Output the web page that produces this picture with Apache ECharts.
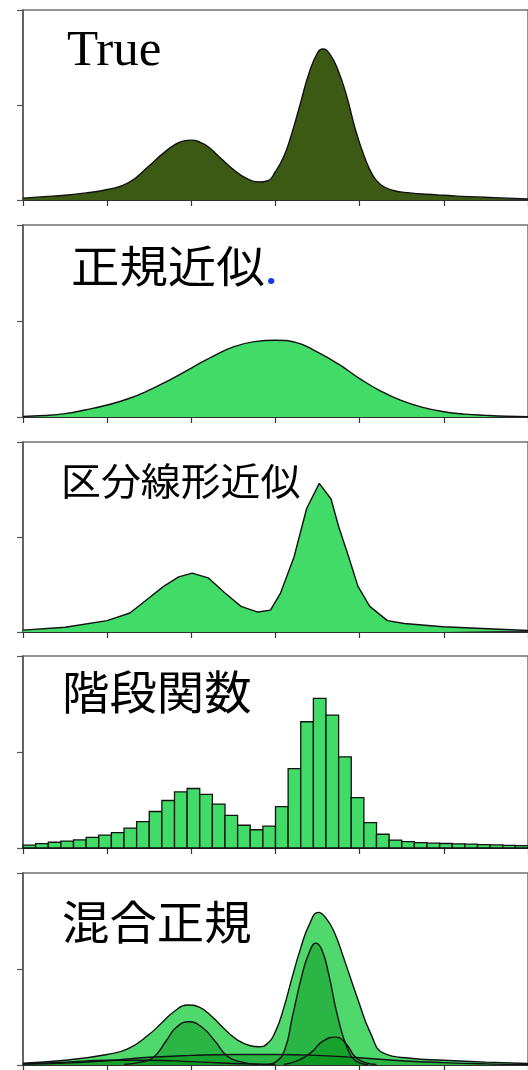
<!DOCTYPE html>
<html>
<head>
<meta charset="utf-8">
<script src="https://cdn.jsdelivr.net/npm/echarts@6/dist/echarts.min.js"></script>
<style>
  html, body { margin: 0; padding: 0; background: #ffffff; }
  #chart { width: 528px; height: 1070px; }
</style>
</head>
<body>
<div id="chart"></div>
<script>
// ---- data -------------------------------------------------------------
const panelTitles = ['True', '正規近似', '区分線形近似', '階段関数', '混合正規'];

// true (bimodal) density
const trueX = [0, 0.25, 0.5, 0.75, 1.0, 1.25, 1.5, 1.65, 1.8, 1.9, 2.0, 2.1, 2.2, 2.35, 2.5, 2.65, 2.8, 2.9,
               3.0, 3.1, 3.2, 3.3, 3.4, 3.5, 3.56, 3.65, 3.75, 3.85, 3.95, 4.05, 4.15, 4.25, 4.4, 4.6, 4.8,
               5.0, 5.3, 5.6, 6.0];
const trueY = [0.02, 0.035, 0.05, 0.075, 0.11, 0.18, 0.36, 0.48, 0.58, 0.62, 0.63, 0.61, 0.56, 0.44, 0.32, 0.23, 0.19, 0.2,
               0.3, 0.46, 0.72, 1.03, 1.34, 1.55, 1.59, 1.53, 1.35, 1.08, 0.74, 0.47, 0.27, 0.16, 0.1, 0.075, 0.06,
               0.05, 0.035, 0.025, 0.012];

// single normal approximation
const normalX = [0, 0.25, 0.5, 0.75, 1.0, 1.25, 1.5, 1.75, 2.0, 2.25, 2.5, 2.75, 3.0, 3.25, 3.5, 3.75,
                 4.0, 4.25, 4.5, 4.75, 5.0, 5.25, 5.5, 5.75, 6.0];
const normalY = [0.006, 0.015, 0.035, 0.075, 0.125, 0.19, 0.28, 0.39, 0.51, 0.63, 0.73, 0.785, 0.8, 0.775, 0.675, 0.55,
                 0.4, 0.27, 0.17, 0.1, 0.055, 0.03, 0.017, 0.008, 0.004];

// piecewise-linear approximation (knots)
const linearX = [0, 0.5, 1.0, 1.27, 1.47, 1.67, 1.85, 2.01, 2.2, 2.4, 2.59, 2.79, 2.94, 3.06, 3.22, 3.37, 3.52,
                 3.66, 3.75, 3.87, 3.98, 4.12, 4.33, 4.53, 4.99, 6.0];
const linearY = [0.02, 0.05, 0.12, 0.2, 0.34, 0.48, 0.58, 0.62, 0.57, 0.41, 0.27, 0.21, 0.23, 0.41, 0.79, 1.3, 1.565,
                 1.4, 1.11, 0.79, 0.48, 0.27, 0.12, 0.09, 0.055, 0.015];

// step-function (histogram) approximation
const stepWidth = 0.15;
const stepHeights = [0.03, 0.045, 0.06, 0.072, 0.085, 0.11, 0.135, 0.16, 0.207, 0.275,
                     0.38, 0.495, 0.585, 0.62, 0.558, 0.457, 0.34, 0.237, 0.19, 0.228,
                     0.432, 0.826, 1.315, 1.558, 1.385, 0.95, 0.524, 0.264, 0.143, 0.083,
                     0.066, 0.055, 0.05, 0.047, 0.044, 0.04, 0.036, 0.032, 0.028, 0.024];

// normal mixture: total density and its components
const mixX = [0, 0.5, 1.0, 1.25, 1.5, 1.65, 1.8, 1.95, 2.1, 2.25, 2.4, 2.55, 2.7, 2.8, 2.9, 3.0, 3.1, 3.2, 3.3,
              3.4, 3.51, 3.6, 3.7, 3.82, 3.98, 4.13, 4.29, 4.6, 5.0, 5.5, 6.0];
const mixY = [0.02, 0.05, 0.11, 0.17, 0.32, 0.44, 0.56, 0.625, 0.6, 0.5, 0.37, 0.26, 0.2, 0.19, 0.22, 0.35, 0.6, 0.92, 1.22,
              1.46, 1.59, 1.53, 1.38, 1.09, 0.68, 0.33, 0.12, 0.07, 0.05, 0.03, 0.015];
const comp1X = [1.2, 1.4, 1.55, 1.7, 1.82, 1.97, 2.13, 2.28, 2.43, 2.6, 2.8];
const comp1Y = [0.005, 0.03, 0.08, 0.25, 0.39, 0.45, 0.39, 0.25, 0.09, 0.03, 0.005];
const comp2X = [2.9, 3.0, 3.11, 3.2, 3.32, 3.4, 3.48, 3.55, 3.63, 3.74, 3.86, 3.96, 4.1];
const comp2Y = [0.005, 0.03, 0.16, 0.5, 0.955, 1.17, 1.27, 1.2, 0.955, 0.5, 0.16, 0.04, 0.005];
const comp3X = [3.1, 3.25, 3.36, 3.45, 3.55, 3.71, 3.84, 3.94, 4.05, 4.2];
const comp3Y = [0.005, 0.04, 0.09, 0.15, 0.24, 0.29, 0.22, 0.09, 0.03, 0.005];
const comp4X = [0, 0.5, 1.0, 1.5, 2.0, 2.5, 3.0, 3.5, 4.0, 4.5, 5.0, 5.5, 6.0];
const comp4Y = [0.01, 0.02, 0.045, 0.08, 0.1, 0.11, 0.11, 0.1, 0.075, 0.045, 0.025, 0.012, 0.005];
const comp5X = [0, 0.5, 1.0, 1.5, 2.0, 2.5, 3.0];
const comp5Y = [0.01, 0.03, 0.05, 0.05, 0.035, 0.015, 0.005];

// ---- layout -----------------------------------------------------------
const panels = [
  { top: 10,  height: 190 },
  { top: 225, height: 192 },
  { top: 442, height: 190 },
  { top: 656, height: 192 },
  { top: 873, height: 192 }
];
const plotLeft = 23;
const plotWidth = 518;   // x = 6 lies just past the right edge of the page

const pairs = (xs, ys) => xs.map((x, i) => [x, ys[i]]);

const grids = panels.map(p => ({
  left: plotLeft, top: p.top, width: plotWidth, height: p.height,
  show: true, backgroundColor: '#ffffff', borderColor: '#707070', borderWidth: 1.5
}));

const xAxes = panels.map((p, i) => ({
  type: 'value', gridIndex: i, min: 0, max: 6, interval: 1,
  axisLine: { show: true, onZero: false, lineStyle: { color: '#111', width: 1.6 } },
  axisTick: { show: true, inside: false, length: 6, lineStyle: { color: '#333', width: 1.2 } },
  axisLabel: { show: false },
  splitLine: { show: false }
}));

const yAxes = panels.map((p, i) => ({
  type: 'value', gridIndex: i, min: 0, max: 2, interval: 1,
  axisLine: { show: true, lineStyle: { color: '#555', width: 1.5 } },
  axisTick: { show: true, inside: false, length: 6, lineStyle: { color: '#555', width: 1.2 } },
  axisLabel: { show: false },
  splitLine: { show: false }
}));

const outline = { color: '#111', width: 1.4 };

function curve(idx, xs, ys, fill, smooth) {
  return {
    type: 'line', xAxisIndex: idx, yAxisIndex: idx,
    data: pairs(xs, ys),
    smooth: smooth ? 0.5 : false,
    symbol: 'none', silent: true,
    lineStyle: outline,
    areaStyle: { color: fill, opacity: 1 }
  };
}

const bright = '#41dc68';
const compFill = 'rgba(0,140,20,0.45)';

const series = [
  curve(0, trueX, trueY, '#3c5a14', true),
  curve(1, normalX, normalY, bright, true),
  curve(2, linearX, linearY, bright, false),
  {
    type: 'custom', xAxisIndex: 3, yAxisIndex: 3, silent: true,
    data: stepHeights.map((h, k) => [k * stepWidth, (k + 1) * stepWidth, h]),
    encode: { x: [0, 1], y: 2 },
    renderItem: (params, api) => {
      const a = api.coord([api.value(0), api.value(2)]);
      const b = api.coord([api.value(1), 0]);
      return {
        type: 'rect',
        shape: { x: a[0], y: a[1], width: b[0] - a[0], height: b[1] - a[1] },
        style: { fill: bright, stroke: '#111', lineWidth: 1.3 }
      };
    }
  },
  curve(4, mixX, mixY, '#4fd86c', true),
  curve(4, comp5X, comp5Y, compFill, true),
  curve(4, comp4X, comp4Y, compFill, true),
  curve(4, comp1X, comp1Y, compFill, true),
  curve(4, comp2X, comp2Y, compFill, true),
  curve(4, comp3X, comp3Y, compFill, true)
];

// panel headings
const cjk = '"Noto Sans CJK JP", "Noto Sans CJK SC", sans-serif';
const graphic = [
  { type: 'text', x: 67, y: 26, silent: true,
    style: { text: panelTitles[0], font: '51px "Liberation Serif", serif', fill: '#000', verticalAlign: 'top' } },
  { type: 'text', x: 71, y: 244, silent: true, scaleX: 1.1,
    style: { text: '{a|' + panelTitles[1] + '}{b|.}', verticalAlign: 'top',
             rich: { a: { font: '44px ' + cjk, fill: '#000' }, b: { font: '44px ' + cjk, fill: '#1438f0' } } } },
  { type: 'text', x: 61, y: 462, silent: true, scaleX: 1.05,
    style: { text: panelTitles[2], font: '38px ' + cjk, fill: '#000', verticalAlign: 'top' } },
  { type: 'text', x: 62, y: 669, silent: true, scaleX: 1.03,
    style: { text: panelTitles[3], font: '46px ' + cjk, fill: '#000', verticalAlign: 'top' } },
  { type: 'text', x: 62, y: 899, silent: true, scaleX: 1.03,
    style: { text: panelTitles[4], font: '46px ' + cjk, fill: '#000', verticalAlign: 'top' } }
];

const chart = echarts.init(document.getElementById('chart'), null, { renderer: 'canvas' });
chart.setOption({
  animation: false,
  backgroundColor: '#ffffff',
  grid: grids,
  xAxis: xAxes,
  yAxis: yAxes,
  series: series,
  graphic: graphic
});
</script>
</body>
</html>
